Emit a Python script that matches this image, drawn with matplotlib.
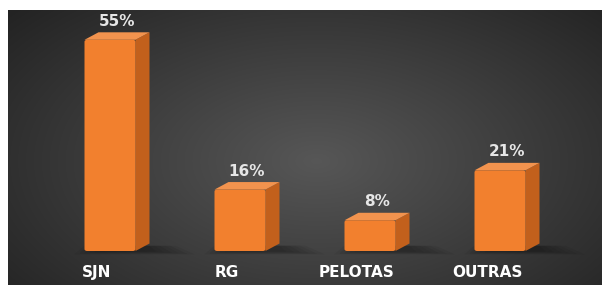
import matplotlib
matplotlib.use("Agg")
import matplotlib.pyplot as plt
from matplotlib.patches import Polygon, FancyBboxPatch
import numpy as np

categories = ["SJN", "RG", "PELOTAS", "OUTRAS"]
values = [55, 16, 8, 21]
labels = ["55%", "16%", "8%", "21%"]

W, H = 611, 285
fig = plt.figure(figsize=(W / 100, H / 100), dpi=100)
fig.patch.set_facecolor("white")

# dark area with a soft radial gradient
left, right, top = 8, 602, 10
rect = [left / W, 0, (right - left) / W, (H - top) / H]
bg = fig.add_axes(rect)
yy, xx = np.mgrid[0:1:200j, 0:1:400j]
r = np.sqrt(((xx - 0.52) / 0.75) ** 2 + ((yy - 0.55) / 0.9) ** 2)
shade = np.clip(0.34 - 0.22 * r, 0.13, 0.34)
img = np.dstack([shade, shade, shade])
bg.imshow(img, aspect="auto", extent=[0, 1, 0, 1], interpolation="bilinear")
bg.set_axis_off()

ax = fig.add_axes(rect)
ax.patch.set_alpha(0)
ax.set_axis_off()

px_per_val = 3.84
base_px = H - 251
x0_px, step_px = 110, 130
ax.set_ylim(-base_px / px_per_val, (H - top - base_px) / px_per_val)
ax.set_xlim(-(x0_px - left) / step_px, (right - x0_px) / step_px)

x = np.arange(len(categories))
width = 51 / step_px
dx = 14 / step_px
dy = 7.5 / px_per_val

front = "#F2802E"
side = "#C2601C"
topc = "#F2934E"

bars = ax.bar(x, values, width=width, color=front, alpha=0)
for b in bars:
    bx, bw, bh = b.get_x(), b.get_width(), b.get_height()
    # soft shadow on the floor
    for k in range(6):
        g = k * 0.04
        ax.add_patch(Polygon([[bx - 0.08 + g, -0.9 + k * 0.15],
                              [bx + bw + dx + 0.35 - g * 1.5, -0.9 + k * 0.15],
                              [bx + bw + dx + 0.2 - g, dy * 0.7],
                              [bx + g * 0.5, dy * 0.7]],
                             closed=True, color="black", alpha=0.06, lw=0, zorder=1))
    # side face
    ax.add_patch(Polygon([[bx + bw, 0], [bx + bw + dx, dy], [bx + bw + dx, bh + dy],
                          [bx + bw, bh]], closed=True, color=side, lw=0, zorder=2))
    # top face
    ax.add_patch(Polygon([[bx, bh], [bx + dx, bh + dy], [bx + bw + dx, bh + dy],
                          [bx + bw, bh]], closed=True, color=topc, lw=0, zorder=3))
    # front face
    ax.add_patch(FancyBboxPatch((bx, 0), bw, bh,
                                boxstyle="round,pad=0,rounding_size=0.02",
                                mutation_aspect=25, color=front, lw=0, zorder=4))

for xi, v, lab in zip(x, values, labels):
    ax.text(xi + dx / 2, v + dy + 0.9, lab, ha="center", va="bottom",
            color="#E6E6E6", fontsize=11, fontweight="bold",
            family="DejaVu Sans", zorder=6)

for xi, cat in zip(x, categories):
    ax.text(xi - 0.1, -5.6, cat, ha="center", va="center", color="white",
            fontsize=11, fontweight="bold", family="DejaVu Sans", zorder=6)

fig.savefig("out.png", dpi=100, facecolor=fig.get_facecolor())
